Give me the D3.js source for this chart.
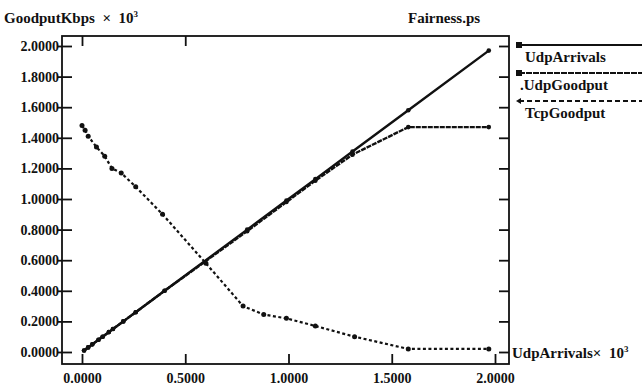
<!DOCTYPE html>
<html>
<head>
<meta charset="utf-8">
<script src="https://cdn.jsdelivr.net/npm/d3@7"></script>
<style>
    body { margin: 0; background: #fff; }
    text { font-family: "Liberation Serif", "DejaVu Serif", serif; font-weight: bold; fill: #111; }
</style>
</head>
<body>
<script>
// x values in units of 10^3
var udpX = [0.01, 0.03, 0.05, 0.08, 0.1, 0.13, 0.15, 0.2, 0.26, 0.4, 0.8, 0.99, 1.13, 1.31, 1.58, 1.97];
var udpArrivals = [0.01, 0.03, 0.05, 0.08, 0.1, 0.13, 0.15, 0.2, 0.26, 0.4, 0.8, 0.99, 1.13, 1.31, 1.58, 1.97];
var udpGoodput = [0.01, 0.03, 0.05, 0.08, 0.1, 0.13, 0.15, 0.2, 0.26, 0.4, 0.79, 0.98, 1.12, 1.29, 1.47, 1.47];
var tcpX = [0.0, 0.015, 0.03, 0.07, 0.11, 0.145, 0.19, 0.26, 0.39, 0.6, 0.78, 0.88, 0.99, 1.13, 1.32, 1.58, 1.97];
var tcpGoodput = [1.48, 1.45, 1.41, 1.34, 1.28, 1.2, 1.17, 1.08, 0.9, 0.58, 0.3, 0.245, 0.22, 0.17, 0.1, 0.02, 0.02];
var xTicks = [0, 0.5, 1.0, 1.5, 2.0];
var yTicks = [0, 0.2, 0.4, 0.6, 0.8, 1.0, 1.2, 1.4, 1.6, 1.8, 2.0];
var legendNames = ['UdpArrivals', '.UdpGoodput', 'TcpGoodput'];

var svg = d3.select('body').append('svg')
    .attr('width', 642)
    .attr('height', 389);

var frame = {left: 62, right: 509, top: 36, bottom: 364};

var x = d3.scaleLinear().domain([0, 2]).range([82, 495]);
var y = d3.scaleLinear().domain([0, 2]).range([352, 46]);

// frame
svg.append('rect')
    .attr('x', frame.left).attr('y', frame.top)
    .attr('width', frame.right - frame.left)
    .attr('height', frame.bottom - frame.top)
    .attr('fill', 'none').attr('stroke', '#111').attr('stroke-width', 1.8);

// axes
var fmt = d3.format('.4f');
var left = svg.append('g').attr('transform', `translate(${frame.left},0)`)
    .call(d3.axisLeft(y).tickValues(yTicks).tickFormat(fmt).tickSizeInner(-10).tickSizeOuter(0).tickPadding(3));
left.selectAll('.tick line').attr('x1', -5).attr('x2', 10);

svg.append('g').attr('transform', `translate(${frame.right},0)`)
    .call(d3.axisLeft(y).tickValues(yTicks).tickFormat('').tickSizeInner(10).tickSizeOuter(0));

var bottom = svg.append('g').attr('transform', `translate(0,${frame.bottom})`)
    .call(d3.axisBottom(x).tickValues(xTicks).tickFormat(fmt).tickSizeInner(-10).tickSizeOuter(0).tickPadding(9));

svg.append('g').attr('transform', `translate(0,${frame.top})`)
    .call(d3.axisTop(x).tickValues(xTicks.slice(0, 2)).tickFormat('').tickSizeInner(-10).tickSizeOuter(0));

svg.selectAll('.domain').remove();
svg.selectAll('.tick line').attr('stroke', '#111').attr('stroke-width', 1.8);
svg.selectAll('.tick text').style('font-size', '14px')
    .style('font-family', '"Liberation Serif", serif').style('font-weight', 'bold').attr('fill', '#111');

// lines
var line = d3.line().x(d => x(d[0])).y(d => y(d[1]));

var series = [
    {pts: d3.zip(udpX, udpArrivals), dash: null, w: 2.4, r: 2.3},
    {pts: d3.zip(udpX, udpGoodput), dash: '5,1', w: 2.4, r: 2.3},
    {pts: d3.zip(tcpX, tcpGoodput), dash: '3,2.5', w: 2.2, r: 2.5}
];

series.forEach(function(s) {
    svg.append('path')
        .attr('d', line(s.pts))
        .attr('fill', 'none')
        .attr('stroke', '#111')
        .attr('stroke-width', s.w)
        .attr('stroke-dasharray', s.dash);
    svg.selectAll(null)
        .data(s.pts).enter()
        .append('circle')
        .attr('cx', d => x(d[0]))
        .attr('cy', d => y(d[1]))
        .attr('r', s.r)
        .attr('fill', '#111');
});

// legend
var legend = svg.append('g').attr('transform', 'translate(519,45)');
var legendDash = [null, '6,1', '5,3'];
legendNames.forEach(function(name, i) {
    var g = legend.append('g').attr('transform', `translate(0,${i * 28})`);
    g.append('line')
        .attr('x1', 0).attr('x2', 123).attr('y1', 0).attr('y2', 0)
        .attr('stroke', '#111').attr('stroke-width', 2.2)
        .attr('stroke-dasharray', legendDash[i]);
    if (i < 2) {
        g.append('rect').attr('x', -3).attr('y', -3).attr('width', 6).attr('height', 6).attr('fill', '#111');
    } else {
        g.append('path').attr('d', 'M-3,0L2,-3L2,3Z').attr('fill', '#111');
    }
    g.append('text').attr('x', i == 1 ? 1 : 6).attr('y', 17)
        .style('font-size', '15px').text(name);
});

// titles
svg.append('text').attr('x', 4).attr('y', 23).style('font-size', '15px')
    .html('GoodputKbps &#160;×&#160; 10<tspan dy="-6" style="font-size:9px">3</tspan>');
svg.append('text').attr('x', 408).attr('y', 23).style('font-size', '15px').text('Fairness.ps');
svg.append('text').attr('x', 512).attr('y', 358).style('font-size', '15px')
    .html('UdpArrivals×&#160; 10<tspan dy="-6" style="font-size:9px">3</tspan>');
</script>
</body>
</html>
